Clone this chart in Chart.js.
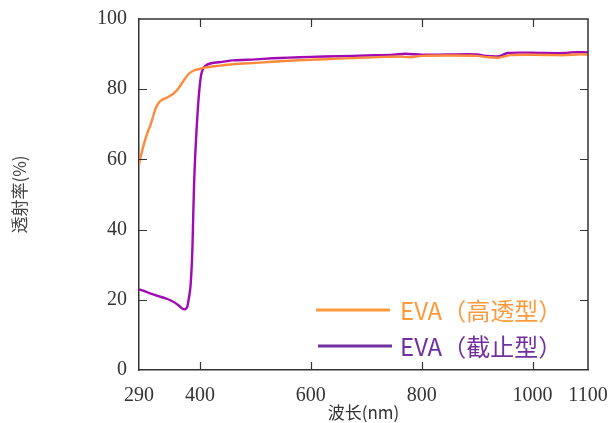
<!DOCTYPE html>
<html>
<head>
<meta charset="utf-8">
<script src="https://cdn.jsdelivr.net/npm/chart.js@4"></script>
<style>
  html, body { margin: 0; padding: 0; background: #fff; }
  #wrap { width: 609px; height: 423px; }
</style>
</head>
<body>
<div id="wrap"><canvas id="chart"></canvas></div>
<script>
// wavelength (nm) / transmittance (%)
const highWl = [290, 295, 300, 305, 310, 315, 320, 325, 330, 340, 350, 360, 370, 380, 390, 400, 410, 430, 460, 500, 530, 560, 600, 650, 700, 730, 760, 780, 800, 850, 900, 920, 940, 960, 1000, 1040, 1060, 1080, 1100];
const highT = [58.5, 62, 65, 67.5, 69.5, 72, 74.5, 76, 76.8, 77.6, 78.5, 80, 82.3, 84.4, 85.4, 85.8, 86.2, 86.6, 87.1, 87.5, 87.8, 88.1, 88.4, 88.7, 89.0, 89.2, 89.3, 89.1, 89.5, 89.6, 89.5, 89.1, 89.0, 89.7, 89.8, 89.7, 89.7, 89.9, 89.9];

const cutWl = [290, 300, 310, 320, 330, 340, 350, 360, 368, 373, 377, 380, 383, 386, 388, 390, 393, 396, 399, 402, 405, 410, 420, 440, 460, 500, 530, 560, 600, 650, 700, 750, 770, 800, 850, 900, 915, 940, 955, 1000, 1020, 1060, 1070, 1100];
const cutT = [23, 22.5, 21.8, 21.3, 20.8, 20.3, 19.6, 18.6, 17.5, 17.3, 18, 20.5, 24, 33, 45, 56, 66, 74, 80, 84, 85.6, 86.7, 87.4, 87.8, 88.2, 88.5, 88.8, 89.0, 89.2, 89.4, 89.6, 89.8, 90.1, 89.8, 89.9, 89.9, 89.5, 89.4, 90.3, 90.4, 90.3, 90.3, 90.5, 90.5];

const xTicks = [290, 400, 600, 800, 1000, 1100];
const yTicks = [0, 20, 40, 60, 80, 100];
const seriesNames = ['EVA（高透型）', 'EVA（截止型）'];

const axisColor = '#333';
const lineColors = ['#ff8a3c', '#a00ab4'];
const legendColors = ['#ff9a3c', '#7030a0'];

const toPoints = (xs, ys) => xs.map((x, i) => ({ x, y: ys[i] }));

// inner ticks on all four sides, top/right frame, and the in-plot legend
const framePlugin = {
  id: 'frame',
  afterDatasetsDraw(chart) {
    const { ctx, chartArea: a, scales } = chart;
    ctx.save();
    ctx.strokeStyle = axisColor;
    ctx.lineWidth = 1.5;
    ctx.beginPath();
    ctx.moveTo(a.left, a.top);
    ctx.lineTo(a.right, a.top);
    ctx.lineTo(a.right, a.bottom);
    ctx.stroke();

    const len = 8;
    ctx.lineWidth = 1.2;
    ctx.beginPath();
    xTicks.slice(1, -1).forEach(v => {
      const px = Math.round(scales.x.getPixelForValue(v)) + 0.5;
      ctx.moveTo(px, a.bottom);
      ctx.lineTo(px, a.bottom - len);
      ctx.moveTo(px, a.top);
      ctx.lineTo(px, a.top + len);
    });
    yTicks.slice(1, -1).forEach(v => {
      const py = Math.round(scales.y.getPixelForValue(v)) + 0.5;
      ctx.moveTo(a.left, py);
      ctx.lineTo(a.left + len, py);
      ctx.moveTo(a.right, py);
      ctx.lineTo(a.right - len, py);
    });
    ctx.stroke();

    // legend
    const rows = [310, 346];
    ctx.font = '24px "Noto Sans CJK SC"';
    ctx.textBaseline = 'middle';
    seriesNames.forEach((name, i) => {
      ctx.strokeStyle = legendColors[i];
      ctx.lineWidth = 3;
      ctx.beginPath();
      ctx.moveTo(316 + i * 2, rows[i]);
      ctx.lineTo(390 + i * 2, rows[i]);
      ctx.stroke();
      ctx.fillStyle = legendColors[i];
      ctx.fillText(name, 400, rows[i] + 1);
    });
    ctx.restore();
  }
};

new Chart(document.getElementById('chart'), {
  type: 'line',
  data: {
    datasets: [
      {
        label: seriesNames[0],
        data: toPoints(highWl, highT),
        borderColor: lineColors[0],
        borderWidth: 2.4,
        pointRadius: 0,
        tension: 0.3,
      },
      {
        label: seriesNames[1],
        data: toPoints(cutWl, cutT),
        borderColor: lineColors[1],
        borderWidth: 2.4,
        pointRadius: 0,
        tension: 0.3,
      },
    ],
  },
  options: {
    responsive: true,
    maintainAspectRatio: false,
    animation: false,
    layout: { padding: { top: 19, right: 21, left: 0, bottom: 0 } },
    plugins: {
      legend: { display: false },
      tooltip: { enabled: false },
    },
    scales: {
      x: {
        type: 'linear',
        min: 290,
        max: 1100,
        afterBuildTicks: s => { s.ticks = xTicks.map(v => ({ value: v })); },
        afterFit: s => { s.height = 53; s.paddingRight = 0; s.paddingLeft = 0; },
        ticks: {
          color: '#333',
          padding: 6,
          maxRotation: 0,
          autoSkip: false,
          callback: v => String(v),
          font: { family: '"Liberation Serif"', size: 20 },
        },
        grid: { display: false },
        border: { color: axisColor, width: 1.5 },
        title: {
          display: true,
          text: '波长(nm)',
          color: '#333',
          padding: { top: 0, bottom: 0 },
          font: { family: '"Noto Sans CJK SC"', size: 17 },
        },
      },
      y: {
        min: 0,
        max: 100,
        afterBuildTicks: s => { s.ticks = yTicks.map(v => ({ value: v })); },
        afterFit: s => { s.width = 139; },
        ticks: {
          color: '#333',
          padding: 4,
          font: { family: '"Liberation Serif"', size: 20 },
        },
        grid: { display: false },
        border: { color: axisColor, width: 1.5 },
        title: {
          display: true,
          text: '透射率(%)',
          color: '#444',
          padding: { top: 9, bottom: 0 },
          font: { family: '"Noto Sans CJK SC"', size: 17 },
        },
      },
    },
  },
  plugins: [framePlugin],
});
</script>
</body>
</html>
